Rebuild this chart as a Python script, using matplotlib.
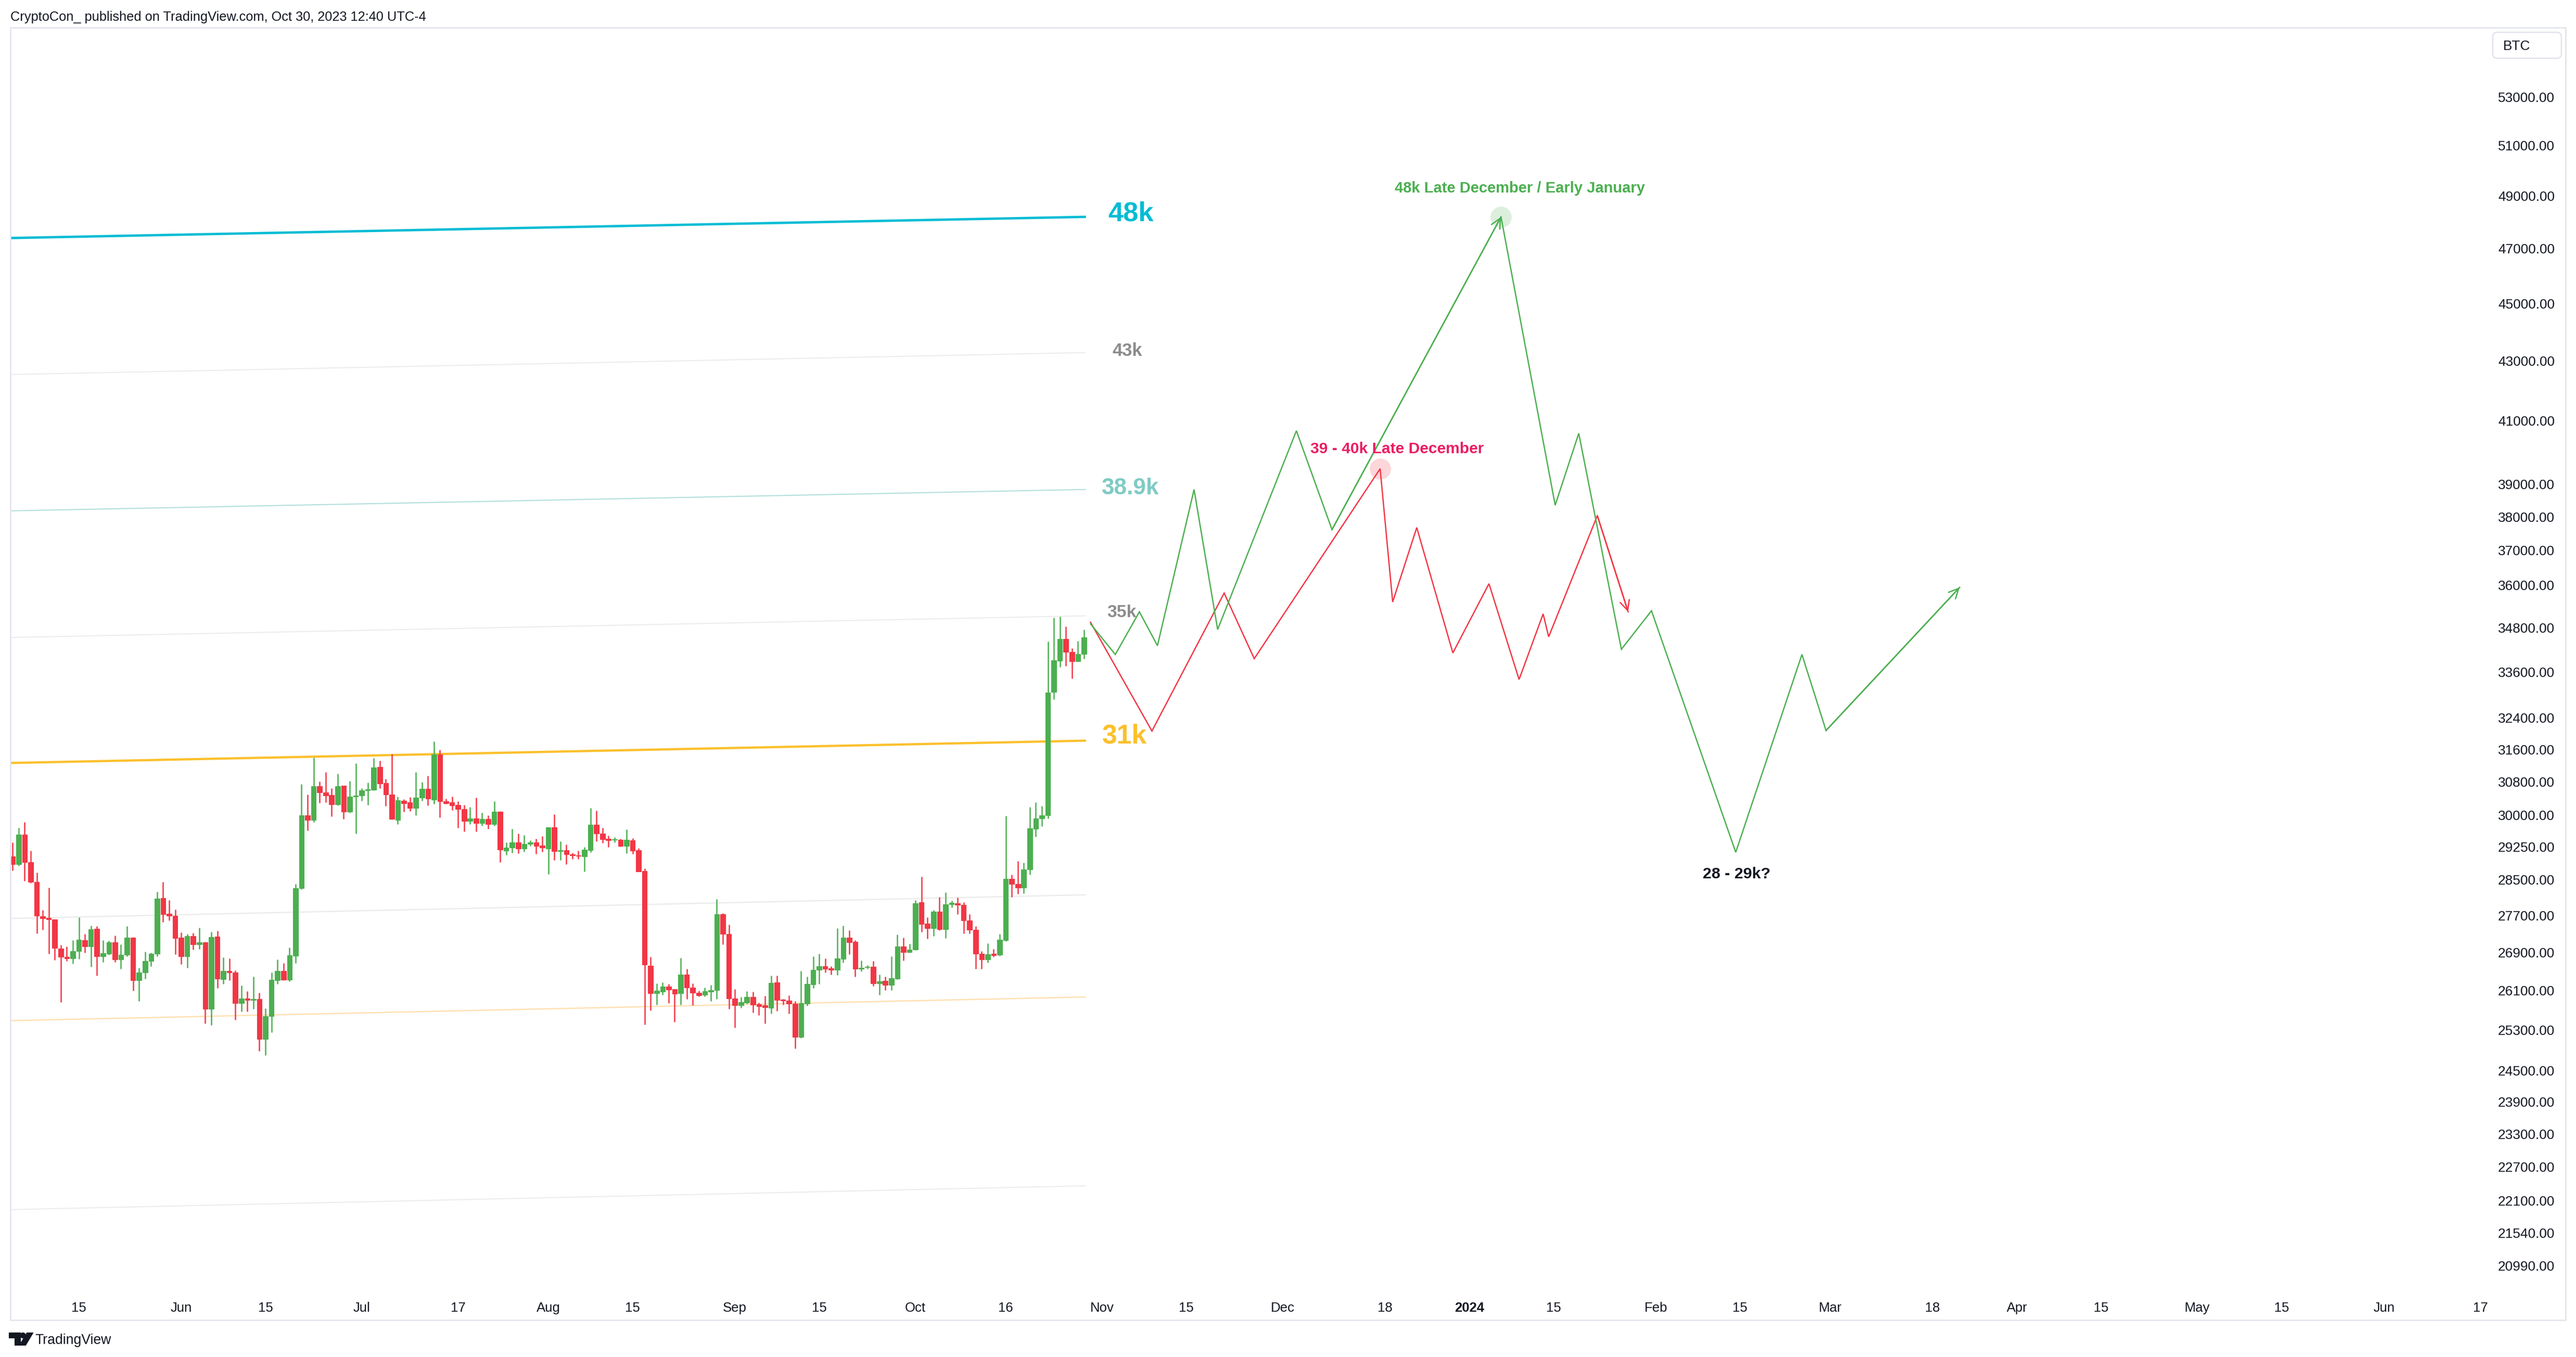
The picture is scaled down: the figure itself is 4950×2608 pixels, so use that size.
import numpy as np
import pandas as pd
import matplotlib
matplotlib.use('Agg')
import matplotlib.pyplot as plt
import matplotlib.dates as mdates
from matplotlib.transforms import Affine2D
from matplotlib.patches import Rectangle, FancyBboxPatch, Polygon, Circle
from matplotlib.ticker import FixedLocator, NullLocator

plt.rcParams['font.family'] = ['Liberation Sans', 'DejaVu Sans']

W, H, DPI = 4950, 2608, 300

# ---------------- data ----------------
candle_start = '2023-05-04'
opens = [29030, 28845, 29535, 28895, 28445, 27690, 27650, 27615, 26990, 26810,
         26780, 26925, 27170, 27035, 27415, 26815, 26875, 27120, 26750, 26850,
         27220, 26315, 26475, 26715, 26870, 28090, 27745, 27700, 27220, 26815,
         27255, 27070, 27115, 25730, 27245, 26335, 26515, 26480, 25845, 25940,
         25905, 25930, 25115, 25575, 26320, 26515, 26330, 26835, 28310, 29995,
         29885, 30690, 30545, 30475, 30255, 30705, 30075, 30435, 30460, 30585,
         30605, 31165, 30770, 30490, 29885, 30340, 30300, 30170, 30410, 30630,
         30370, 31475, 30330, 30300, 30240, 30140, 29860, 29915, 29805, 29905,
         29780, 30080, 29165, 29230, 29355, 29205, 29320, 29355, 29285, 29215,
         29710, 29155, 29175, 29075, 29055, 29035, 29175, 29770, 29565, 29435,
         29410, 29420, 29265, 29405, 29175, 28700, 26625, 26045, 26080, 26190,
         26135, 26045, 26435, 26165, 26060, 26010, 26080, 26105, 27730, 27300,
         25940, 25795, 25855, 25975, 25825, 25795, 25750, 26275, 25915, 25900,
         25835, 25155, 25835, 26225, 26535, 26610, 26570, 26535, 26760, 27215,
         27135, 26560, 26585, 26595, 26245, 26305, 26215, 26350, 27035, 26910,
         26960, 27995, 27520, 27425, 27790, 27405, 27950, 27970, 27935, 27595,
         27390, 26870, 26755, 26870, 26850, 27165, 28525, 28405, 28320, 28730,
         29670, 29915, 29995, 33070, 33905, 34490, 34140, 33890, 34080]
highs = [29355, 29690, 29830, 29160, 28660, 27825, 28320, 27615, 27065, 27030,
         27170, 27665, 27300, 27480, 27470, 27170, 27155, 27270, 27075, 27470,
         27230, 26580, 26920, 26895, 28230, 28450, 28045, 27835, 27335, 27300,
         27325, 27440, 27135, 27345, 27370, 26800, 26775, 26525, 26210, 26090,
         26395, 26055, 25740, 26475, 26755, 26675, 27010, 28400, 30745, 30490,
         31400, 30805, 31035, 30640, 31000, 30705, 30820, 31255, 30640, 30780,
         31380, 31320, 30870, 31490, 30440, 30380, 30430, 31035, 30795, 30945,
         31800, 31595, 30390, 30440, 30330, 30240, 30190, 30415, 30055, 29995,
         30330, 30095, 29355, 29670, 29560, 29525, 29405, 29445, 29500, 29710,
         30020, 29380, 29310, 29115, 29160, 29245, 30165, 30105, 29695, 29510,
         29470, 29445, 29660, 29455, 29225, 28750, 26810, 26255, 26275, 26235,
         26135, 26790, 26555, 26255, 26100, 26165, 26220, 28065, 27755, 27505,
         26135, 25975, 26090, 26080, 25855, 25995, 26415, 26415, 25930, 26005,
         25885, 26510, 26395, 26820, 26870, 26770, 26610, 27425, 27480, 27380,
         27160, 26735, 26635, 26720, 26430, 26395, 26820, 27290, 27220, 27090,
         28040, 28570, 27665, 27825, 28110, 28215, 28035, 28100, 27995, 27730,
         27470, 26935, 27100, 26975, 27295, 29980, 28615, 28925, 28890, 30190,
         30305, 30215, 34420, 35080, 35110, 34835, 34235, 34435, 34750]
lows = [28705, 28820, 28475, 28420, 27305, 27385, 26880, 26745, 25860, 26715,
        26660, 26760, 26895, 26595, 26410, 26695, 26850, 26695, 26555, 26815,
        26095, 25890, 26345, 26605, 26815, 27555, 27590, 26860, 26650, 26575,
        26960, 26970, 25425, 25395, 26150, 26235, 26320, 25505, 25670, 25670,
        25730, 24880, 24795, 25250, 26235, 26315, 26290, 26675, 28290, 29635,
        29825, 30290, 30300, 29960, 30225, 29910, 30050, 29565, 30335, 30245,
        30585, 30645, 30220, 29895, 29785, 30075, 30085, 29985, 30345, 30230,
        30270, 29945, 30270, 30110, 29700, 29615, 29785, 29615, 29750, 29665,
        29750, 28895, 29060, 29110, 29100, 29135, 29275, 29085, 29135, 28625,
        28950, 28950, 28845, 28965, 28965, 28690, 29120, 29375, 29340, 29240,
        29360, 29260, 29100, 29085, 28680, 25405, 25690, 25810, 26010, 25845,
        25460, 25815, 25925, 25795, 25985, 25980, 25890, 25925, 27070, 25720,
        25345, 25750, 25830, 25655, 25595, 25425, 25625, 25680, 25810, 25625,
        24930, 25140, 25785, 26150, 26235, 26475, 26435, 26420, 26685, 26860,
        26390, 26500, 26550, 26195, 26015, 26110, 26110, 26335, 26730, 26900,
        26950, 27340, 27195, 27255, 27375, 27210, 27885, 27735, 27310, 27310,
        26555, 26560, 26685, 26810, 26830, 27140, 28105, 28175, 28190, 28610,
        29485, 29730, 29915, 32885, 33725, 33755, 33420, 33880, 33955]
closes = [28845, 29535, 28895, 28445, 27695, 27635, 27615, 26995, 26805, 26780,
          26930, 27175, 27025, 27400, 26815, 26890, 27120, 26750, 26855, 27220,
          26320, 26480, 26725, 26875, 28080, 27735, 27695, 27205, 26815, 27255,
          27070, 27120, 25730, 27235, 26345, 26515, 26475, 25845, 25940, 25905,
          25930, 25120, 25580, 26330, 26515, 26330, 26845, 28310, 29995, 29885,
          30690, 30535, 30460, 30255, 30690, 30075, 30440, 30470, 30590, 30610,
          31150, 30760, 30495, 29910, 30355, 30280, 30160, 30415, 30630, 30385,
          31475, 30325, 30280, 30230, 30140, 29860, 29915, 29805, 29905, 29780,
          30080, 29180, 29235, 29355, 29215, 29320, 29355, 29275, 29230, 29710,
          29155, 29175, 29075, 29055, 29040, 29185, 29770, 29555, 29425, 29405,
          29430, 29275, 29420, 29165, 28690, 26640, 26045, 26095, 26190, 26120,
          26030, 26435, 26160, 26055, 26005, 26090, 26115, 27730, 27295, 25935,
          25795, 25865, 25975, 25810, 25775, 25755, 26265, 25905, 25895, 25830,
          25155, 25845, 26235, 26535, 26610, 26560, 26535, 26770, 27220, 27125,
          26560, 26580, 26595, 26255, 26295, 26215, 26360, 27035, 26910, 26965,
          27975, 27515, 27425, 27790, 27405, 27950, 27980, 27935, 27590, 27385,
          26870, 26755, 26865, 26845, 27175, 28525, 28400, 28325, 28735, 29680,
          29915, 29995, 33055, 33915, 34490, 34140, 33890, 34080, 34530]

# level bands (start value, end value)
band_dates = ['2023-05-03 00:00', '2023-10-29 08:00']
band_cyan = [47390, 48195]
band_gray43 = [42530, 43280]
band_teal = [38175, 38830]
band_gray35 = [34530, 35130]
band_yellow = [31260, 31820]
band_gray28 = [27635, 28160]
band_orange = [25485, 25970]
band_gray22 = [21940, 22360]

# projected paths
green_up_dates = ['2023-10-30 02:00', '2023-11-03 05:00', '2023-11-07 05:00', '2023-11-10 05:00',
                  '2023-11-16 07:00', '2023-11-20 05:00', '2023-12-03 07:00', '2023-12-09 05:00',
                  '2024-01-06 07:00']
green_up_prices = [34908, 34069, 35241, 34308, 38827, 34750, 40679, 37613, 48193]
green_down_dates = ['2024-01-06 07:00', '2024-01-15 07:00', '2024-01-19 05:00', '2024-01-26 07:00',
                    '2024-01-31 07:00', '2024-02-14 07:00', '2024-02-25 07:00', '2024-02-29 07:00',
                    '2024-03-22 12:00']
green_down_prices = [48193, 38349, 40595, 34210, 35270, 29126, 34069, 32076, 35931]
red_dates = ['2023-10-30 02:00', '2023-11-09 07:00', '2023-11-21 07:00', '2023-11-26 07:00',
             '2023-12-17 05:00', '2023-12-19 07:00', '2023-12-23 07:00', '2023-12-29 07:00',
             '2024-01-04 07:00', '2024-01-09 07:00', '2024-01-13 07:00', '2024-01-14 05:00',
             '2024-01-22 07:00', '2024-01-27 10:00']
red_prices = [34951, 32063, 35768, 33957, 39473, 35518, 37675, 34111, 36035, 33401,
              35183, 34550, 38033, 35241]

# axis ticks
price_ticks = [53000, 51000, 49000, 47000, 45000, 43000, 41000, 39000, 38000, 37000,
               36000, 34800, 33600, 32400, 31600, 30800, 30000, 29250, 28500, 27700,
               26900, 26100, 25300, 24500, 23900, 23300, 22700, 22100, 21540, 20990]
date_ticks = ['2023-05-15', '2023-06-01', '2023-06-15', '2023-07-01', '2023-07-17', '2023-08-01',
              '2023-08-15', '2023-09-01', '2023-09-15', '2023-10-01', '2023-10-16', '2023-11-01',
              '2023-11-15', '2023-12-01', '2023-12-18', '2024-01-01', '2024-01-15', '2024-02-01',
              '2024-02-15', '2024-03-01', '2024-03-18', '2024-04-01', '2024-04-15', '2024-05-01',
              '2024-05-15', '2024-06-01', '2024-06-17']
date_tick_labels = ['15', 'Jun', '15', 'Jul', '17', 'Aug', '15', 'Sep', '15', 'Oct', '16', 'Nov',
                    '15', 'Dec', '18', '2024', '15', 'Feb', '15', 'Mar', '18', 'Apr', '15', 'May',
                    '15', 'Jun', '17']


def to_num(seq):
    return mdates.date2num(pd.to_datetime(seq, format='mixed'))


# ---------------- styling ----------------
GREEN = '#4caf50'
RED = '#f23645'
TEXT = '#131722'
FRAME = '#e0e3eb'

fig = plt.figure(figsize=(W / DPI, H / DPI), dpi=DPI)
fig.patch.set_facecolor('white')
PX = Affine2D().scale(1, -1).translate(0, H).scale(1.0 / DPI) + fig.dpi_scale_trans

ax_l, ax_r, ax_t, ax_b = 20, 4780, 53, 2488
ax = fig.add_axes([ax_l / W, 1 - ax_b / H, (ax_r - ax_l) / W, (ax_b - ax_t) / H])
ax.set_facecolor('none')
for sp in ax.spines.values():
    sp.set_visible(False)

# frame
fig.patches.append(Rectangle((20, 53), 4910, 2484, transform=PX, fill=False,
                             edgecolor=FRAME, linewidth=0.6, zorder=0))

# candles
x0 = mdates.date2num(pd.Timestamp(candle_start))
cdates = pd.date_range(candle_start, periods=len(opens), freq='D')
xs = mdates.date2num(cdates)
o = np.array(opens, float); h = np.array(highs, float)
l = np.array(lows, float); c = np.array(closes, float)
up = c >= o
cols = np.where(up, GREEN, RED)
ax.vlines(xs, l, h, colors=cols, linewidth=0.6, zorder=3)
bot = np.minimum(o, c)
hei = np.maximum(np.abs(c - o), 1.0)
ax.bar(xs, hei, bottom=bot, width=0.83, color=cols, edgecolor=cols, linewidth=0.25, zorder=4)

# bands
bx = to_num(band_dates)
bands = [(band_cyan, '#00bcd4', 1.1), (band_gray43, '#ececec', 0.5), (band_teal, '#b2dfdb', 0.5),
         (band_gray35, '#ececec', 0.5), (band_yellow, '#fbc02d', 1.05), (band_gray28, '#ececec', 0.6),
         (band_orange, '#ffe0b2', 0.6), (band_gray22, '#ececec', 0.5)]
for vals, colr, lw in bands:
    ax.plot(bx, vals, color=colr, linewidth=lw, zorder=2, solid_capstyle='butt')


# projected paths
def draw_path(dates, prices, color, arrow=True):
    xx = to_num(dates)
    ax.plot(xx, prices, color=color, linewidth=0.6, zorder=6, solid_joinstyle='miter')
    if arrow:
        ax.annotate('', xy=(xx[-1], prices[-1]), xytext=(xx[-2], prices[-2]),
                    arrowprops=dict(arrowstyle='->,head_length=0.45,head_width=0.22', color=color,
                                    lw=0.6, shrinkA=0, shrinkB=0, mutation_scale=10), zorder=6)


draw_path(red_dates, red_prices, RED)
draw_path(green_up_dates, green_up_prices, GREEN)
draw_path(green_down_dates, green_down_prices, GREEN)

# highlight circles
gx = to_num([green_up_dates[-1]])[0]
rx = to_num([red_dates[4]])[0]
ax.scatter([gx], [green_up_prices[-1]], s=95, color=GREEN, alpha=0.2, linewidths=0, zorder=5)
ax.scatter([rx], [red_prices[4]], s=95, color=RED, alpha=0.2, linewidths=0, zorder=5)

# axes scales
ax.set_yscale('log')
ax.set_ylim(20513, 55996)
ax.set_xlim(x0 - 0.372, x0 + 411.2)
ax.yaxis.set_major_locator(FixedLocator(price_ticks))
ax.yaxis.set_minor_locator(NullLocator())
ax.set_yticklabels([f'{v:.2f}' for v in price_ticks])
ax.yaxis.tick_right()
ax.tick_params(axis='y', length=0, pad=4.8, labelsize=6.3, labelcolor=TEXT)
ax.set_xticks(to_num(date_ticks))
ax.set_xticklabels(date_tick_labels)
ax.xaxis.set_minor_locator(NullLocator())
ax.tick_params(axis='x', length=0, pad=3.4, labelsize=6.2, labelcolor=TEXT)
for t in ax.get_xticklabels():
    if t.get_text() == '2024':
        t.set_fontweight('bold')


# text helpers (pixel coordinates, y = visual center of capitals)
def ptext(x, y, s, size, color, weight='normal', ha='left'):
    base = y + 0.36 * size * DPI / 72
    fig.text(x, base, s, transform=PX, fontsize=size, color=color, fontweight=weight,
             ha=ha, va='baseline', zorder=10)


ptext(2129, 406, '48k', 12.6, '#00bcd4', 'bold')
ptext(2137, 672, '43k', 8.3, '#8c8c8c', 'bold')
ptext(2117, 934, '38.9k', 10.6, '#80cbc4', 'bold')
ptext(2127, 1174, '35k', 8.1, '#8c8c8c', 'bold')
ptext(2118, 1410, '31k', 12.4, '#fbc02d', 'bold')
ptext(2921, 360, '48k Late December / Early January', 7.0, GREEN, 'bold', 'center')
ptext(2685, 860, '39 - 40k Late December', 7.2, '#e91e63', 'bold', 'center')
ptext(3337, 1677, '28 - 29k?', 7.3, TEXT, 'bold', 'center')

# header and footer
ptext(20, 31, 'CryptoCon_ published on TradingView.com, Oct 30, 2023 12:40 UTC-4', 6.1, TEXT)
ptext(67, 2573, 'TradingView', 6.4, TEXT)

# TradingView logo mark
fig.patches.append(Rectangle((19, 2563), 19, 6.5, transform=PX, color=TEXT, zorder=10))
fig.patches.append(Rectangle((29.5, 2563), 8.5, 21, transform=PX, color=TEXT, zorder=10))
fig.patches.append(Circle((44, 2566.5), 3.6, transform=PX, color=TEXT, zorder=10))
fig.patches.append(Polygon([(40, 2584), (48.5, 2584), (61, 2563), (52.5, 2563)], closed=True,
                           transform=PX, color=TEXT, zorder=10))

# BTC box
fig.patches.append(FancyBboxPatch((4790, 62), 132, 50, boxstyle='round,pad=0,rounding_size=9',
                                  transform=PX, facecolor='white', edgecolor=FRAME,
                                  linewidth=0.6, zorder=10))
ptext(4810, 87, 'BTC', 6.3, TEXT)

fig.savefig('out.png', dpi=DPI, facecolor='white')
